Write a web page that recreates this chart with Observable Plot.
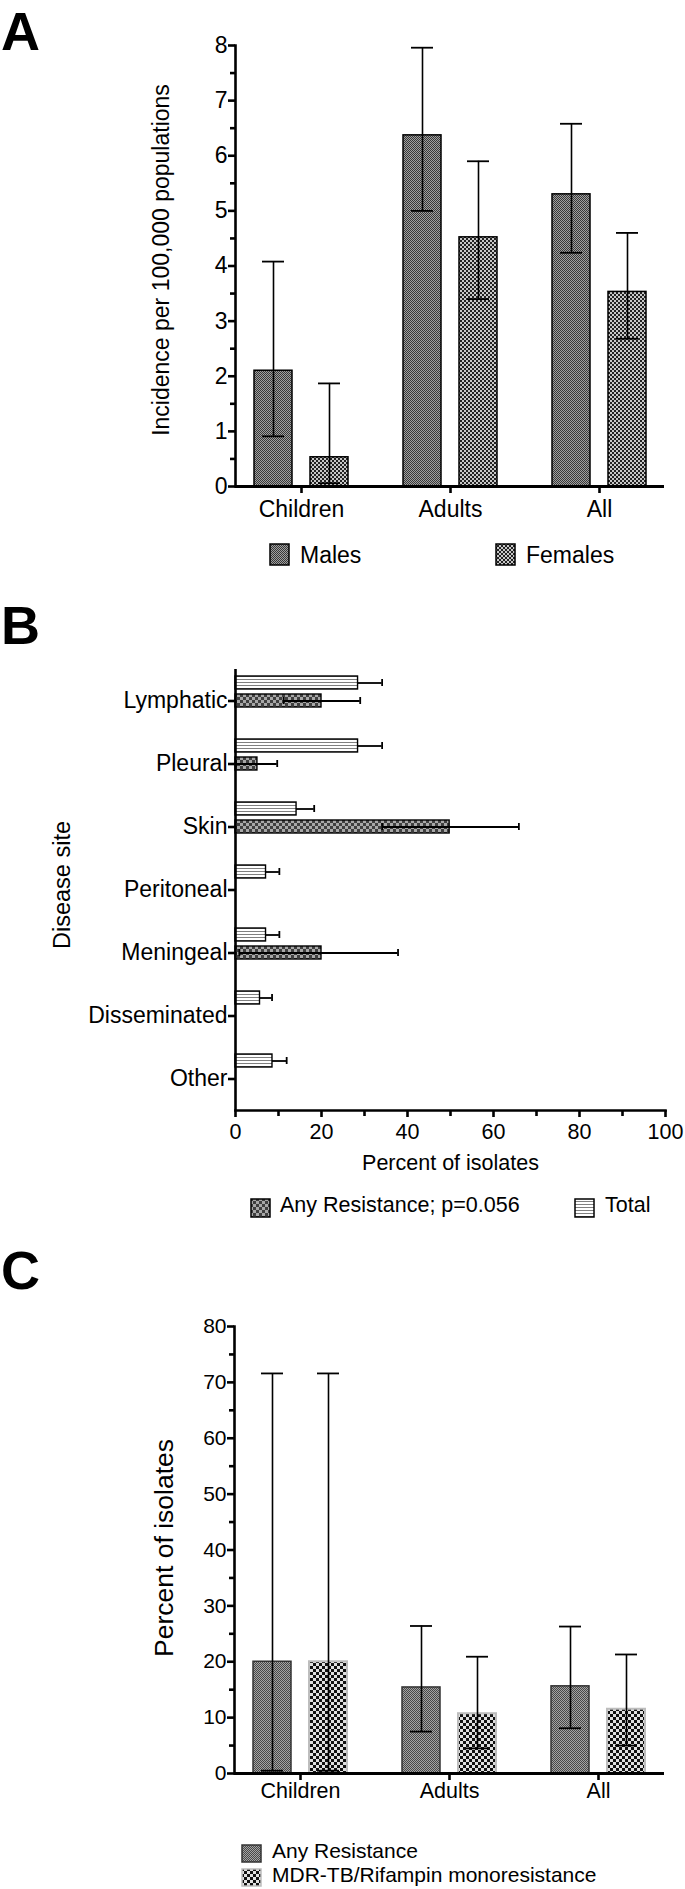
<!DOCTYPE html>
<html><head><meta charset="utf-8">
<script src="https://cdn.jsdelivr.net/npm/d3@7"></script>
<script src="https://cdn.jsdelivr.net/npm/@observablehq/plot@0.6"></script>
<style>
body{margin:0;background:#fff;}
#page{position:relative;width:685px;height:1889px;overflow:hidden;font-family:"Liberation Sans",Arial,Helvetica,sans-serif;color:#000;background:#fff;}
.abs{position:absolute;}
.letter{position:absolute;font-weight:bold;font-size:54px;line-height:62px;}
.legtxt{position:absolute;white-space:nowrap;}
</style></head><body>
<svg width="0" height="0" style="position:absolute;width:0;height:0">
<defs>
<pattern id="pAm" width="2" height="2" patternUnits="userSpaceOnUse"><rect width="2" height="2" fill="#a0a0a0"/><rect width="1" height="1" fill="#383838"/><rect x="1" y="1" width="1" height="1" fill="#383838"/></pattern>
<pattern id="pAf" width="4" height="4" patternUnits="userSpaceOnUse"><rect width="4" height="4" fill="#c8c8c8"/><rect width="2" height="2" fill="#222222"/><rect x="2" y="2" width="2" height="2" fill="#222222"/></pattern>
<pattern id="pBa" width="6" height="6" patternUnits="userSpaceOnUse"><rect width="6" height="6" fill="#a8a8a8"/><rect width="3" height="3" fill="#404040"/><rect x="3" y="3" width="3" height="3" fill="#404040"/></pattern>
<pattern id="pBt" width="3" height="3" patternUnits="userSpaceOnUse"><rect width="3" height="3" fill="#ffffff"/><rect width="3" height="1" fill="#808080"/></pattern>
<pattern id="pCa" width="2" height="2" patternUnits="userSpaceOnUse"><rect width="2" height="2" fill="#a4a4a4"/><rect width="1" height="1" fill="#484848"/><rect x="1" y="1" width="1" height="1" fill="#484848"/></pattern>
<pattern id="pCm" width="6" height="6" patternUnits="userSpaceOnUse"><rect width="6" height="6" fill="#e0e0e0"/><rect width="3" height="3" fill="#111111"/><rect x="3" y="3" width="3" height="3" fill="#111111"/></pattern>
</defs></svg>
<div id="page"></div>
<script>
// ---------- DATA ----------
// Panel A
const groups = ["Children", "Adults", "All"];
const malesInc = [2.10, 6.37, 5.30];
const malesLo  = [0.91, 5.00, 4.24];
const malesHi  = [4.08, 7.96, 6.58];
const femalesInc = [0.53, 4.52, 3.53];
const femalesLo  = [0.06, 3.40, 2.68];
const femalesHi  = [1.87, 5.90, 4.60];
const yTicksA = [0, 1, 2, 3, 4, 5, 6, 7, 8];
const yMinorA = [0.5, 1.5, 2.5, 3.5, 4.5, 5.5, 6.5, 7.5];
const labelA = "Incidence per 100,000 populations";
const legendA = ["Males", "Females"];

// Panel B
const sites = ["Lymphatic", "Pleural", "Skin", "Peritoneal", "Meningeal", "Disseminated", "Other"];
const totalPct = [28.5, 28.5, 14.2, 7.1, 7.1, 5.7, 8.6];
const totalHi  = [34.1, 34.1, 18.3, 10.2, 10.2, 8.5, 11.9];
const anyPct = [20.0, 5.1, 49.8, null, 20.0, null, null];
const anyLo  = [11.2, 0.1, 34.1, null, 0.9, null, null];
const anyHi  = [29.0, 9.7, 65.9, null, 37.8, null, null];
const xTicksB = [0, 20, 40, 60, 80, 100];
const xMinorB = [10, 30, 50, 70, 90];
const xLabelB = "Percent of isolates";
const yLabelB = "Disease site";
const legendB = ["Any Resistance; p=0.056", "Total"];

// Panel C
const anyResC = [20.0, 15.4, 15.6];
const anyResLo = [0.5, 7.5, 8.1];
const anyResHi = [71.6, 26.4, 26.3];
const mdrC = [20.0, 10.7, 11.5];
const mdrLo = [0.5, 4.5, 5.0];
const mdrHi = [71.6, 20.9, 21.3];
const yTicksC = [0, 10, 20, 30, 40, 50, 60, 70, 80];
const yMinorC = [5, 15, 25, 35, 45, 55, 65, 75];
const labelC = "Percent of isolates";
const legendC = ["Any Resistance", "MDR-TB/Rifampin monoresistance"];

// ---------- HELPERS ----------
const FONT = '"Liberation Sans", Arial, Helvetica, sans-serif';
const page = document.getElementById("page");
function place(el, top) {
  const d = document.createElement("div");
  d.className = "abs"; d.style.left = "0px"; d.style.top = top + "px";
  d.appendChild(el); page.appendChild(d);
}
function letter(t, top) {
  const d = document.createElement("div");
  d.className = "letter"; d.style.left = "1px"; d.style.top = top + "px";
  d.textContent = t; page.appendChild(d);
}
function legendItem(sx, sy, sw, sh, fill, stroke, tx, baseline, size, text) {
  const ns = "http://www.w3.org/2000/svg";
  const s = document.createElementNS(ns, "svg");
  s.setAttribute("width", sw + 2); s.setAttribute("height", sh + 2);
  s.style.position = "absolute"; s.style.left = (sx - 1) + "px"; s.style.top = (sy - 1) + "px";
  const r = document.createElementNS(ns, "rect");
  r.setAttribute("x", 1); r.setAttribute("y", 1); r.setAttribute("width", sw); r.setAttribute("height", sh);
  r.setAttribute("fill", fill); r.setAttribute("stroke", stroke); r.setAttribute("stroke-width", 1.5);
  s.appendChild(r); page.appendChild(s);
  const t = document.createElement("div");
  t.className = "legtxt";
  t.style.fontSize = size + "px"; t.style.lineHeight = size + "px";
  t.style.left = tx + "px";
  t.style.top = (baseline - 0.8465 * size) + "px";
  t.textContent = text; page.appendChild(t);
}
const rowsOf = (keys, v, lo, hi) => keys.map((k, i) => ({k, v: v[i], lo: lo ? lo[i] : null, hi: hi[i]}));

// ---------- PANEL A ----------
const mA = rowsOf(groups, malesInc, malesLo, malesHi);
const fA = rowsOf(groups, femalesInc, femalesLo, femalesHi);
function groupedBars(rows, dx, fill, stroke, sw) {
  return [
    Plot.barY(rows, {x: "k", y: "v", dx, fill, stroke, strokeWidth: sw}),
    Plot.ruleX(rows, {x: "k", y1: "lo", y2: "hi", dx, stroke: "#000", strokeWidth: 1.6}),
    Plot.tickY(rows, {x: "k", y: "hi", dx, inset: 8, stroke: "#000", strokeWidth: 1.8}),
    Plot.tickY(rows, {x: "k", y: "lo", dx, inset: 8, stroke: "#000", strokeWidth: 1.8})
  ];
}
const plotA = Plot.plot({
  width: 685, height: 530,
  marginLeft: 235, marginRight: 21, marginTop: 45, marginBottom: 44,
  style: {fontFamily: FONT, fontSize: "23px", color: "#000", background: "transparent", overflow: "visible"},
  x: {domain: groups, paddingInner: 0.745, paddingOuter: 0.312},
  y: {domain: [0, 8]},
  marks: [
    ...groupedBars(mA, -28, "url(#pAm)", "#000", 1.5),
    ...groupedBars(fA, 28, "url(#pAf)", "#000", 1.5),
    Plot.frame({anchor: "left", stroke: "#000", strokeWidth: 2.6}),
    Plot.ruleY([0], {stroke: "#000", strokeWidth: 3}),
    Plot.axisY({ticks: yTicksA, tickSize: 7, tickPadding: 1, strokeWidth: 2.6, fontSize: 23, label: null}),
    Plot.axisY({ticks: yMinorA, tickSize: 5, tickFormat: () => "", strokeWidth: 2.6, label: null}),
    Plot.axisX({tickSize: 7, tickPadding: 7, strokeWidth: 2.6, fontSize: 23, label: null}),
    Plot.text([labelA], {text: d => d, frameAnchor: "left", textAnchor: "middle", lineAnchor: "middle", rotate: -90, dx: -74, dy: -6, fontSize: 23})
  ]
});
place(plotA, 0);
letter("A", 0);
legendItem(270, 544, 19, 21, "url(#pAm)", "#000", 300, 563, 23, legendA[0]);
legendItem(496, 544, 19, 21, "url(#pAf)", "#000", 526, 563, 23, legendA[1]);

// ---------- PANEL B ----------
const totB = rowsOf(sites, totalPct, null, totalHi);
const anyB = rowsOf(sites, anyPct, anyLo, anyHi).filter(d => d.v != null);
const plotB = Plot.plot({
  width: 685, height: 540,
  marginLeft: 235, marginRight: 20, marginTop: 29, marginBottom: 70,
  style: {fontFamily: FONT, fontSize: "21.5px", color: "#000", background: "transparent", overflow: "visible"},
  x: {domain: [0, 100]},
  y: {domain: sites, paddingInner: 0.8, paddingOuter: 0.4},
  marks: [
    Plot.barX(totB, {x: "v", y: "k", dy: -18, fill: "url(#pBt)", stroke: "#000", strokeWidth: 1.4}),
    Plot.ruleY(totB, {y: "k", x1: "v", x2: "hi", dy: -18, stroke: "#000", strokeWidth: 1.8}),
    Plot.tickX(totB, {x: "hi", y: "k", dy: -18, inset: 3, stroke: "#000", strokeWidth: 1.8}),
    Plot.barX(anyB, {x: "v", y: "k", fill: "url(#pBa)", stroke: "#000", strokeWidth: 1.4}),
    Plot.ruleY(anyB, {y: "k", x1: "lo", x2: "hi", stroke: "#000", strokeWidth: 1.8}),
    Plot.tickX(anyB, {x: "hi", y: "k", inset: 3, stroke: "#000", strokeWidth: 1.8}),
    Plot.tickX(anyB, {x: "lo", y: "k", inset: 3, stroke: "#000", strokeWidth: 1.8}),
    Plot.ruleX([0], {stroke: "#000", strokeWidth: 2.6}),
    Plot.frame({anchor: "bottom", stroke: "#000", strokeWidth: 2.6}),
    Plot.axisY({tickSize: 7, tickPadding: 1, strokeWidth: 2.6, fontSize: 23, label: null}),
    Plot.axisX({ticks: xTicksB, tickSize: 7, tickPadding: 6, strokeWidth: 2.6, fontSize: 21.5, label: null}),
    Plot.axisX({ticks: xMinorB, tickSize: 6, tickFormat: () => "", strokeWidth: 2.6, label: null}),
    Plot.text([xLabelB], {text: d => d, frameAnchor: "bottom", textAnchor: "middle", lineAnchor: "middle", dy: 53, fontSize: 21.5}),
    Plot.text([yLabelB], {text: d => d, frameAnchor: "left", textAnchor: "middle", lineAnchor: "middle", rotate: -90, dx: -173, dy: -5, fontSize: 23.5})
  ]
});
place(plotB, 640);
letter("B", 594);
legendItem(251, 1199, 19, 18, "url(#pBa)", "#000", 280, 1213, 21.5, legendB[0]);
legendItem(575, 1199, 19, 18, "url(#pBt)", "#000", 605, 1213, 21.5, legendB[1]);

// ---------- PANEL C ----------
const aC = rowsOf(groups, anyResC, anyResLo, anyResHi);
const mC = rowsOf(groups, mdrC, mdrLo, mdrHi);
const plotC = Plot.plot({
  width: 685, height: 520,
  marginLeft: 234, marginRight: 21, marginTop: 26, marginBottom: 47,
  style: {fontFamily: FONT, fontSize: "21px", color: "#000", background: "transparent", overflow: "visible"},
  x: {domain: groups, paddingInner: 0.745, paddingOuter: 0.312},
  y: {domain: [0, 80]},
  marks: [
    ...groupedBars(aC, -28, "url(#pCa)", "#333", 1.5),
    ...groupedBars(mC, 28, "url(#pCm)", "#bdbdbd", 2),
    Plot.frame({anchor: "left", stroke: "#000", strokeWidth: 2.6}),
    Plot.ruleY([0], {stroke: "#000", strokeWidth: 3}),
    Plot.axisY({ticks: yTicksC, tickSize: 7, tickPadding: 1, strokeWidth: 2.6, fontSize: 21, label: null}),
    Plot.axisY({ticks: yMinorC, tickSize: 5, tickFormat: () => "", strokeWidth: 2.6, label: null}),
    Plot.axisX({tickSize: 7, tickPadding: 2, strokeWidth: 2.6, fontSize: 21.5, label: null}),
    Plot.text([labelC], {text: d => d, frameAnchor: "left", textAnchor: "middle", lineAnchor: "middle", rotate: -90, dx: -70, dy: -2, fontSize: 26.5})
  ]
});
place(plotC, 1300);
letter("C", 1239);
legendItem(242, 1845, 19, 17, "url(#pCa)", "#333", 272, 1858, 21, legendC[0]);
legendItem(242, 1869, 19, 17, "url(#pCm)", "#bdbdbd", 272, 1882, 21, legendC[1]);
</script>
</body></html>
